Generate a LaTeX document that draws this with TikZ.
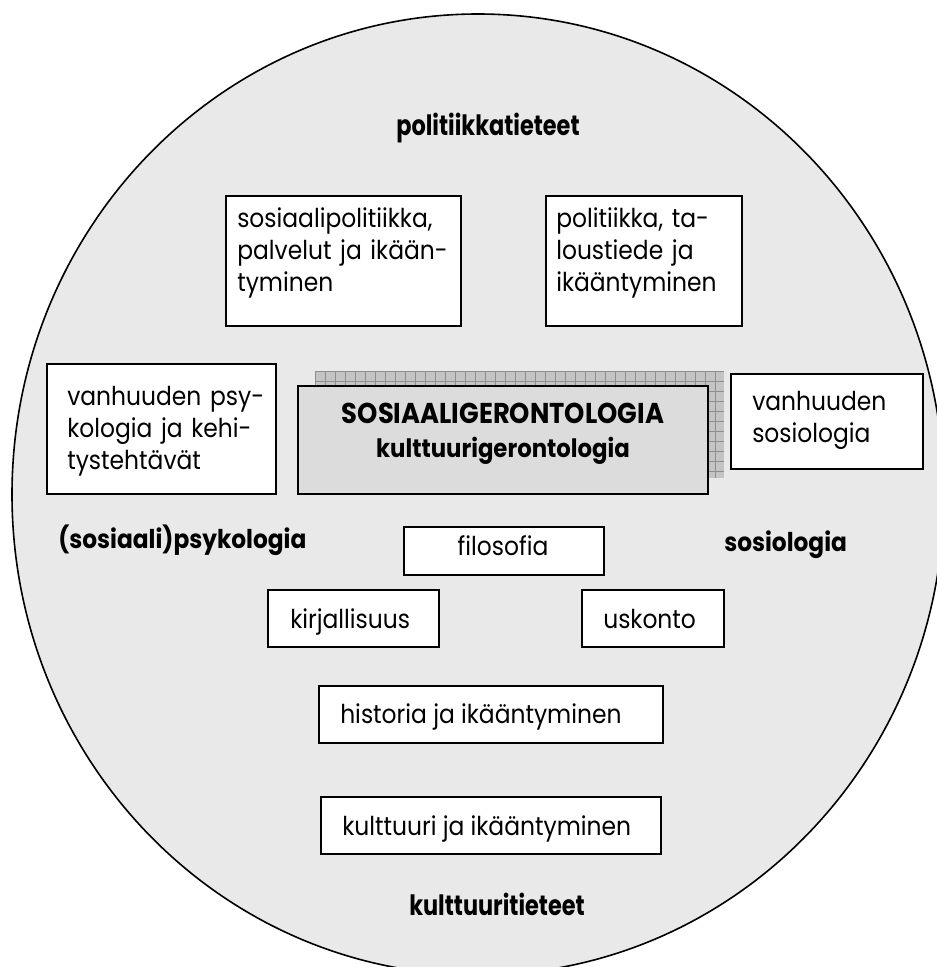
\documentclass[tikz,border=0pt]{standalone}
\usepackage{fontspec}
\setmainfont{Poppins}[FakeStretch=0.9]
\newfontfamily\condfont{Poppins}[FakeStretch=0.8]
\usetikzlibrary{fit}
\definecolor{bggray}{HTML}{E9E9E9}
\definecolor{boxgray}{HTML}{DCDCDC}
\definecolor{shadegray}{HTML}{C4C4C4}
\definecolor{gridgray}{HTML}{8E8E8E}
\begin{document}
\begin{tikzpicture}[x=0.75pt,y=-0.75pt,
  box/.style={draw=black, line width=1.5pt, fill=white, rectangle, inner sep=0pt},
  mainbox/.style={draw=black, line width=2.2pt, fill=boxgray, rectangle, inner sep=0pt},
  txt/.style={anchor=base west, inner sep=0pt, align=left, text width=240pt, font=\fontsize{19.5}{24.2}\selectfont},
  onel/.style={anchor=base west, inner sep=0pt, font=\fontsize{19.5}{24.2}\selectfont},
  lab/.style={anchor=base west, inner sep=0pt, font=\fontsize{19.4}{22}\selectfont\bfseries},
  ctr/.style={anchor=base, inner sep=0pt, font=\fontsize{19}{22}\selectfont\bfseries},
  ctrcap/.style={anchor=base, inner sep=0pt, font=\fontsize{21.5}{24}\selectfont\bfseries},
  clab/.style={anchor=base, inner sep=0pt, font=\condfont\fontsize{21}{24}\selectfont\bfseries}]
\useasboundingbox (0,0) rectangle (937,967);
\begin{scope}
\clip (0,0) rectangle (937,967);
\draw[fill=bggray, line width=1.2pt] (478,494.5) ellipse [x radius=466, y radius=480.5];
\end{scope}
% shadow of central box
\fill[shadegray] (315,371) rectangle (724,478);
\foreach \i in {0,...,40} {\draw[gridgray, line width=0.5pt] (315+10*\i,371) -- (315+10*\i,478);}
\foreach \j in {0,...,10} {\draw[gridgray, line width=0.5pt] (315,371+10*\j) -- (724,371+10*\j);}
\node[mainbox, fit={(298,386) (708,494)}] (main) {};
\node[ctrcap] (m1) at (503,423) {SOSIAALIGERONTOLOGIA};
\node[ctr] (m2) at (503,457) {kulttuurigerontologia};
% boxes
\node[box, fit={(226,196) (461,326)}] (a) {};
\node[txt] (ta) at (237,227) {sosiaalipolitiikka,\\palvelut ja ikään-\\tyminen};
\node[box, fit={(546,196) (742,326)}] (b) {};
\node[txt] (tb) at (556,227) {politiikka, ta-\\loustiede ja\\ikääntyminen};
\node[box, fit={(47,364) (276,494)}] (c) {};
\node[txt] (tc) at (67,405) {vanhuuden psy-\\kologia ja kehi-\\tystehtävät};
\node[box, fit={(731,374) (923,469)}] (d) {};
\node[txt] (td) at (752,410) {vanhuuden\\sosiologia};
\node[box, fit={(404,527) (604,575)}] (f) {};
\node[onel, anchor=base] (tf) at (503,555) {filosofia};
\node[box, fit={(268,590) (439,647)}] (k) {};
\node[onel] (tk) at (290,628) {kirjallisuus};
\node[box, fit={(582,590) (724,647)}] (u) {};
\node[onel] (tu) at (603,628) {uskonto};
\node[box, fit={(319,686) (663,743)}] (h) {};
\node[onel] (th) at (340,723) {historia ja ikääntyminen};
\node[box, fit={(321,797) (661,854)}] (kk) {};
\node[onel] (tkk) at (342,835) {kulttuuri ja ikääntyminen};
% field labels
\node[lab] (psy) at (58,548) {(sosiaali)psykologia};
\node[lab] (sos) at (724,551) {sosiologia};
\node[clab] (pol) at (488,135) {politiikkatieteet};
\node[clab] (kul) at (497,915) {kulttuuritieteet};
\end{tikzpicture}
\end{document}
